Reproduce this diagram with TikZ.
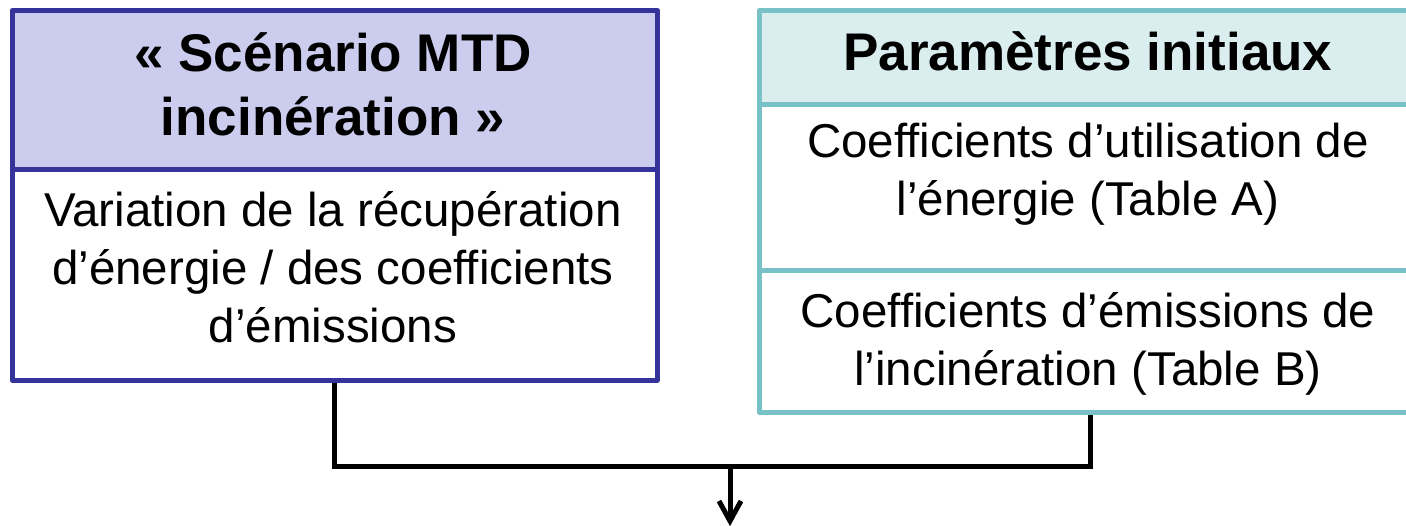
\documentclass[tikz,border=0pt]{standalone}
\usepackage{fontspec}
\setmainfont{Liberation Sans}
\usetikzlibrary{arrows.meta}
\definecolor{lborder}{HTML}{333399}
\definecolor{lfill}{HTML}{CCCCEE}
\definecolor{rborder}{HTML}{78C1C6}
\definecolor{rfill}{HTML}{DAEEF0}
\tikzset{
  boxbase/.style={rectangle, anchor=north west, inner sep=0pt, line width=4.6pt, line join=round},
  lbox/.style={boxbase, draw=lborder},
  rbox/.style={boxbase, draw=rborder},
  titletext/.style={anchor=base, align=center, inner sep=0pt, font=\fontsize{53}{64}\selectfont\bfseries},
  bodytext/.style={anchor=base, align=center, inner sep=0pt, font=\fontsize{47.5}{58}\selectfont},
  conn/.style={line width=5pt, draw=black, line join=miter},
  headstroke/.style={line width=5pt, draw=black, line join=miter, line cap=butt}
}
\begin{document}
\begin{tikzpicture}[x=1pt,y=-1pt]
\useasboundingbox (0,0) rectangle (1406,526);
% left box
\node[lbox, fill=lfill, minimum width=645pt, minimum height=159pt] (lhead) at (10,8) {};
\node[lbox, fill=white, minimum width=645pt, minimum height=211pt] (lbody) at (10,167) {};
\node[titletext] (ltitle) at (333,136) {« Scénario MTD\\incinération »};
\node[bodytext] (ltext) at (333,343) {Variation de la récupération\\d’énergie / des coefficients\\d’émissions};
% right box
\node[rbox, fill=rfill, minimum width=662pt, minimum height=94pt] (rhead) at (757,8) {};
\node[rbox, fill=white, minimum width=662pt, minimum height=166pt] (rb1) at (757,102) {};
\node[rbox, fill=white, minimum width=662pt, minimum height=142pt] (rb2) at (757,268) {};
\node[titletext] (rtitle) at (1088,71) {Paramètres initiaux};
\node[bodytext] (rtext1) at (1088,216) {Coefficients d’utilisation de\\l’énergie (Table A)};
\node[bodytext] (rtext2) at (1088,386) {Coefficients d’émissions de\\l’incinération (Table B)};
% connectors
\coordinate (j) at (730,466);
\coordinate (out) at (730,521);
\draw[conn] (lbody.south) |- (j) -| (rb2.south);
\draw[conn] (j) -- (out);
\draw[headstroke] ([shift={(-11,-20)}]out) -- (out) -- ([shift={(11,-20)}]out);
\end{tikzpicture}
\end{document}
